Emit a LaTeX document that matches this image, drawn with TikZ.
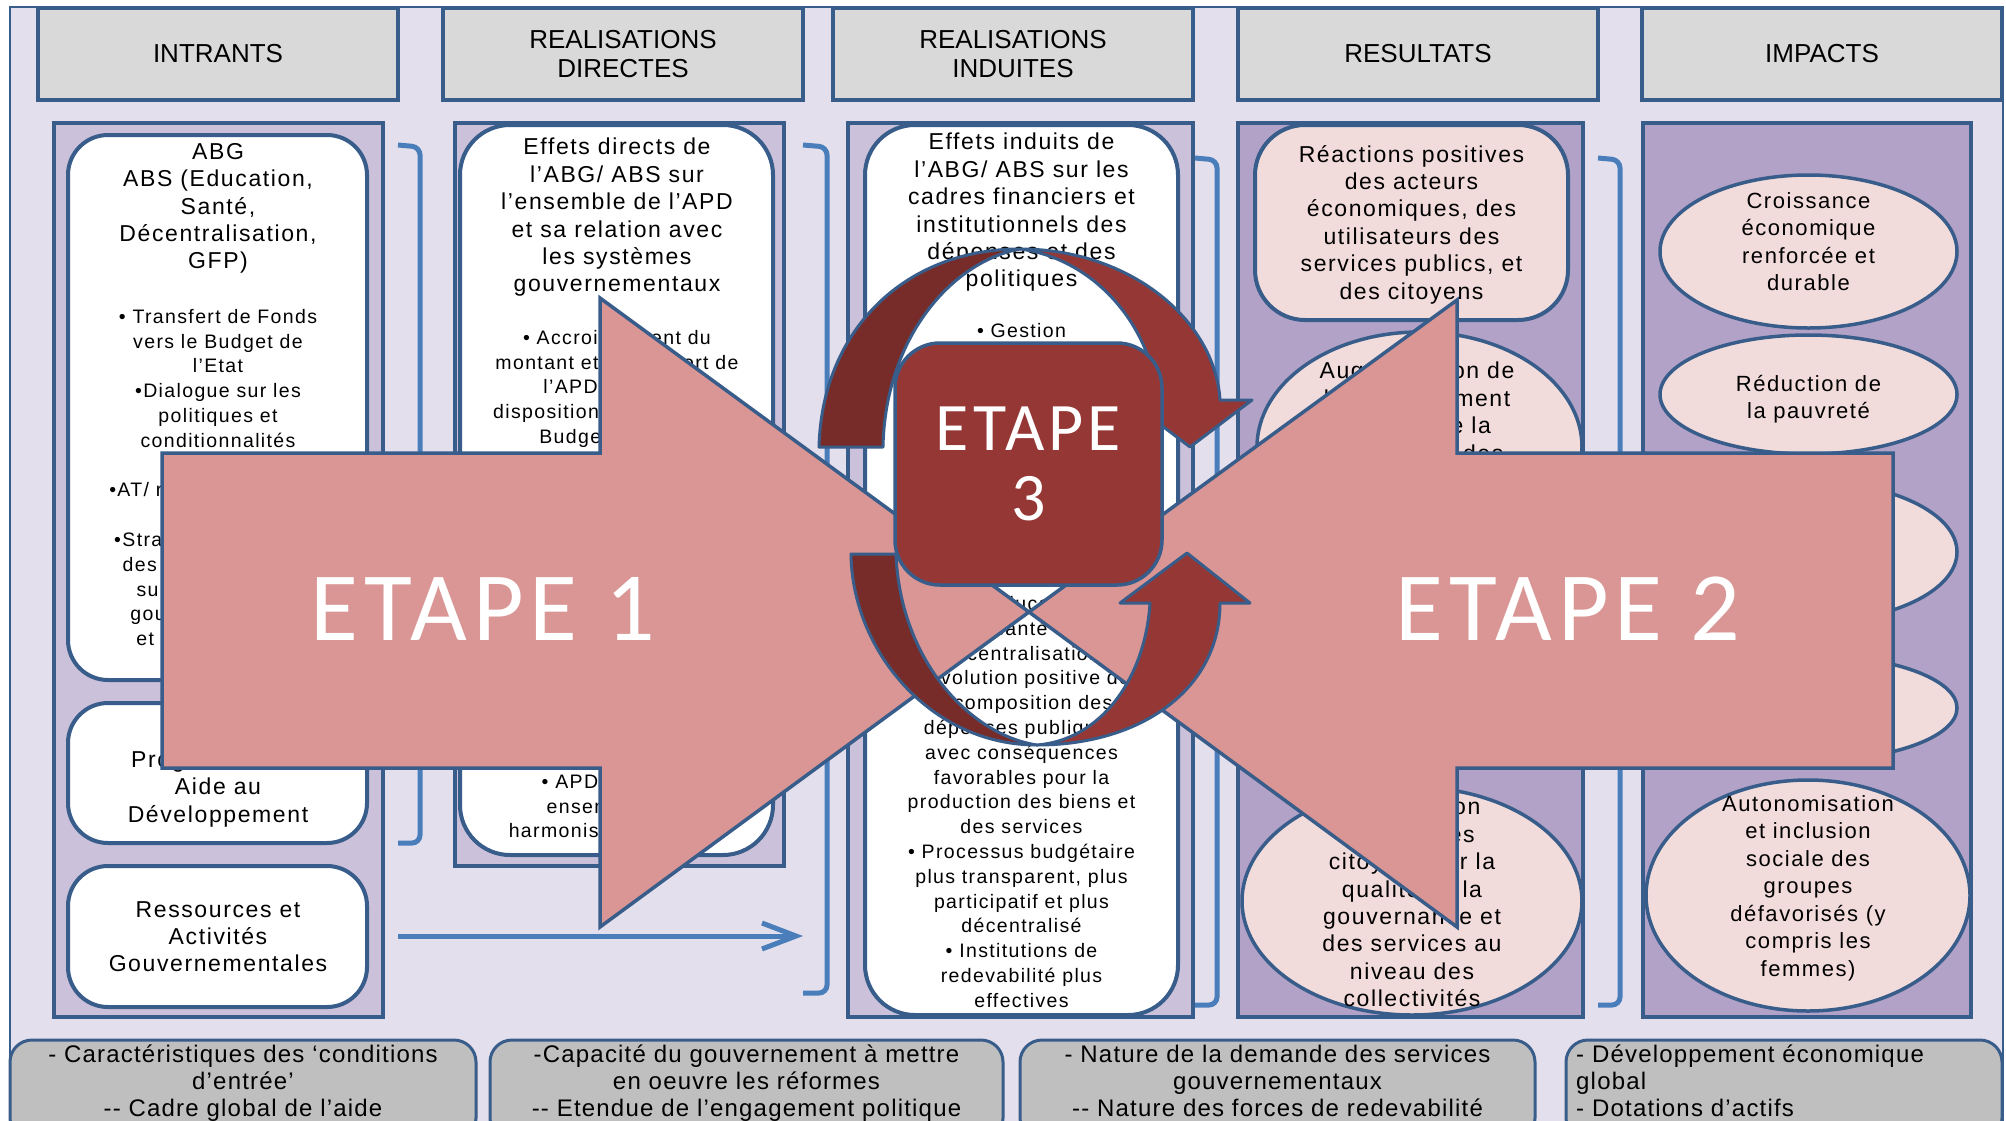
\documentclass[tikz,border=0pt]{standalone}
\usepackage{fontspec}
\setmainfont{Liberation Sans}
\newfontfamily\boxfont[LetterSpace=7]{Liberation Sans}
\newfontfamily\footfont[LetterSpace=5]{Liberation Sans}
\newfontfamily\etapefont[LetterSpace=6]{Carlito}
\usetikzlibrary{shapes.geometric,arrows.meta}

\definecolor{bgviolet}{HTML}{E4DFEC}
\definecolor{frameblue}{HTML}{385D8A}
\definecolor{hdrgray}{HTML}{D9D9D9}
\definecolor{lightpanel}{HTML}{CCC1DA}
\definecolor{darkpanel}{HTML}{B3A2C7}
\definecolor{rosebox}{HTML}{F2DCDB}
\definecolor{arrowpink}{HTML}{D99694}
\definecolor{etapered}{HTML}{953735}
\definecolor{etapedark}{HTML}{772C2A}
\definecolor{brkblue}{HTML}{4A7EBB}
\definecolor{footgray}{HTML}{BFBFBF}

\newcommand\colbig{\boxfont\fontsize{23}{27.4}\selectfont}
\newcommand\colmid{\boxfont\fontsize{22}{27.5}\selectfont}
\newcommand\colsmall{\boxfont\fontsize{19.5}{24.8}\selectfont}

\tikzset{
  hdr/.style={draw=frameblue, line width=3.5pt, fill=hdrgray, minimum width=360pt,
    minimum height=92pt, align=center, font=\fontsize{26}{29}\selectfont},
  panel/.style={draw=frameblue, line width=3.5pt, fill=#1, inner sep=0pt},
  wbox/.style={draw=frameblue, line width=4pt, fill=white, rounded corners=40pt, inner sep=0pt},
  pbox/.style={draw=frameblue, line width=4pt, fill=rosebox, rounded corners=50pt, inner sep=0pt},
  pell/.style={ellipse, draw=frameblue, line width=3.5pt, fill=rosebox, inner sep=0pt},
  txt/.style={align=center, inner sep=0pt, anchor=north},
  brk/.style={draw=brkblue, line width=5pt, rounded corners=8pt},
  etape/.style={fill=arrowpink, draw=frameblue, line width=3.5pt},
  etapetxt/.style={text=white, inner sep=0pt, align=center},
  crc/.style={draw=frameblue, line width=3pt, line join=round},
  step3/.style={draw=frameblue, line width=3.5pt, fill=etapered, rounded corners=45pt},
  foot/.style={draw=frameblue, line width=3pt, fill=footgray, rounded corners=22pt, inner sep=0pt},
  foottxt/.style={inner sep=0pt, font=\footfont\fontsize{24}{27}\selectfont}
}

\begin{document}
\begin{tikzpicture}[x=1pt,y=-1pt]
    \useasboundingbox (0,0) rectangle (2006,1120);
    \fill [white] (0,0) rectangle (2006,1120);
    % Fond
    \draw [fill=bgviolet, draw=frameblue, line width=2.5pt] (10,7) rectangle (2003,1130);

    % En-tetes
    \node [hdr] (hin) at (218,54) {INTRANTS};
    \node [hdr] (hdir) at (623,54) {REALISATIONS\\DIRECTES};
    \node [hdr] (hind) at (1013,54) {REALISATIONS\\INDUITES};
    \node [hdr] (hres) at (1418,54) {RESULTATS};
    \node [hdr] (himp) at (1822,54) {IMPACTS};

    % Colonnes
    \node [panel=lightpanel, minimum width=329pt, minimum height=894pt] (pin) at (218.5,570) {};
    \node [panel=lightpanel, minimum width=329pt, minimum height=743pt] (pdir) at (619.5,494.5) {};
    \node [panel=lightpanel, minimum width=345pt, minimum height=894pt] (pind) at (1020.5,570) {};
    \node [panel=darkpanel, minimum width=345pt, minimum height=894pt] (pres) at (1410.5,570) {};
    \node [panel=darkpanel, minimum width=328pt, minimum height=894pt] (pimp) at (1807,570) {};

    % Intrants
    \node [wbox, minimum width=299pt, minimum height=545pt] (abg) at (217.5,407.5) {};
    \node [wbox, minimum width=299pt, minimum height=140pt] (pad) at (217.5,773) {};
    \node [wbox, minimum width=299pt, minimum height=141pt] (rag) at (217.5,936.5) {};
    \node [txt, font=\colbig] (abgt) at (218,143) {ABG\\ABS (Education,\\Santé,\\Décentralisation,\\GFP)};
    \node [txt, font=\colsmall] (abgl) at (218,309) {• Transfert de Fonds\\vers le Budget de\\l’Etat\\•Dialogue sur les\\politiques et\\conditionnalités\\connexes\\•AT/ renforcement des\\capacités\\•Stratégies/pratiques\\des Agences d’aide\\sur les systèmes\\gouvernementaux\\et harmonisation};
    \node [txt, font=\colbig] (padt) at (218,724) {Autres\\Programmes d’\\Aide au\\Développement};
    \node [txt, font=\colbig] (ragt) at (218,901) {Ressources et\\Activités\\Gouvernementales};

    % Realisations directes
    \node [wbox, rounded corners=50pt, minimum width=313pt, minimum height=730pt] (dir) at (616.5,490) {};
    \node [txt, font=\colbig] (dirt) at (617,138) {Effets directs de\\l’ABG/ ABS sur\\l’ensemble de l’APD\\et sa relation avec\\les systèmes\\gouvernementaux};
    \node [txt, font=\colsmall] (dirl) at (617,330) {• Accroissement du\\montant et de l’apport de\\l’APD mise à la\\disposition et soumise au\\Budget de l’Etat};
    \node [txt, font=\colsmall] (dirb) at (617,774) {• APD dans son\\ensemble plus\\harmonisée et alignée};

    % Realisations induites
    \node [wbox, rounded corners=50pt, minimum width=313pt, minimum height=890pt] (ind) at (1021.5,570) {};
    \node [txt, font=\colbig] (indt) at (1021.5,133) {Effets induits de\\l’ABG/ ABS sur les\\cadres financiers et\\institutionnels des\\dépenses et des\\politiques};
    \node [txt, font=\colsmall] (indg) at (1021.5,323) {• Gestion};
    \node [txt, font=\colsmall] (indl) at (1021.5,596) {de l’éducation,\\la santé et\\décentralisation\\• Évolution positive de\\la composition des\\dépenses publiques\\avec conséquences\\favorables pour la\\production des biens et\\des services\\• Processus budgétaire\\plus transparent, plus\\participatif et plus\\décentralisé\\• Institutions de\\redevabilité plus\\effectives};

    % Resultats
    \node [pbox, minimum width=313pt, minimum height=195pt] (rea) at (1411.5,222.5) {};
    \node [txt, font=\colbig] (reat) at (1411.5,145) {Réactions positives\\des acteurs\\économiques, des\\utilisateurs des\\services publics, et\\des citoyens};
    \node [pell, minimum width=325pt, minimum height=230pt] (inv) at (1419.5,447) {};
    \node [txt, font=\colbig] (invt) at (1417,362) {Augmentation de\\l’investissement\\privé et de la\\croissance des};
    \node [pell, minimum width=340pt, minimum height=228pt] (sat) at (1412,901) {};
    \node [txt, font=\colbig] (satt) at (1412,798) {Satisfaction\\accrue des\\citoyens sur la\\qualité de la\\gouvernance et\\des services au\\niveau des\\collectivités};

    % Impacts
    \node [pell, minimum width=297pt, minimum height=153pt] (cro) at (1808.5,251.5) {};
    \node [pell, minimum width=297pt, minimum height=119pt] (pau) at (1808.5,394.5) {};
    \node [pell, minimum width=297pt, minimum height=141pt] (imp3) at (1808.5,552) {};
    \node [pell, minimum width=297pt, minimum height=106pt] (imp4) at (1808.5,708) {};
    \node [pell, minimum width=324pt, minimum height=231pt] (aut) at (1808,895.5) {};
    \node [txt, font=\colmid] (crot) at (1808.5,192) {Croissance\\économique\\renforcée et\\durable};
    \node [txt, font=\colmid] (paut) at (1808.5,375) {Réduction de\\la pauvreté};
    \node [txt, font=\colmid] (autt) at (1808,795) {Autonomisation\\et inclusion\\sociale des\\groupes\\défavorisés (y\\compris les\\femmes)};

    % Crochets
    \draw [brk] (398,145) -- (420,147) -- (420,843) -- (398,843);
    \draw [brk] (803,145) -- (827,147) -- (827,993) -- (803,993);
    \draw [brk] (1195,158) -- (1217,160) -- (1217,1005) -- (1195,1005);
    \draw [brk] (1598,158) -- (1620,160) -- (1620,1005) -- (1598,1005);
    \coordinate (rfrom) at (398,936);
    \coordinate (rto) at (803,936);
    \draw [brk, -{Straight Barb[length=34pt,width=26pt]}] (rfrom) -- (rto);

    % Etapes 1 et 2
    \draw [etape] (162,453) -- (600,453) -- (600,298) -- (1029,612) -- (600,927) -- (600,768) -- (162,768) -- cycle;
    \draw [etape] (1893,453) -- (1457,453) -- (1457,300) -- (1029,612) -- (1457,927) -- (1457,768) -- (1893,768) -- cycle;
    \node [etapetxt, font=\etapefont\fontsize{98}{98}\selectfont] (et1) at (483,609) {ETAPE 1};
    \node [etapetxt, font=\etapefont\fontsize{98}{98}\selectfont] (et2) at (1568,609) {ETAPE 2};

    % Fleches circulaires
    \draw [crc, fill=etapedark] (819,447) .. controls (822,330) and (905,249) .. (1020,249)
        .. controls (950,262) and (885,340) .. (883,447) -- cycle;
    \draw [crc, fill=etapered] (1020,249) .. controls (1130,249) and (1215,320) .. (1220,400)
        -- (1252,400) -- (1190,447) -- (1128,400) -- (1158,400)
        .. controls (1150,320) and (1090,258) .. (1020,249) -- cycle;
    \draw [crc, fill=etapedark] (851,554) .. controls (852,650) and (930,745) .. (1037,745)
        .. controls (970,735) and (900,660) .. (896,554) -- cycle;
    \draw [crc, fill=etapered] (1037,745) .. controls (1140,745) and (1220,690) .. (1220,603)
        -- (1250,603) -- (1187,553) -- (1120,603) -- (1150,603)
        .. controls (1145,680) and (1100,740) .. (1037,745) -- cycle;

    % Etape 3
    \node [step3, minimum width=267pt, minimum height=242pt, etapetxt,
        font=\etapefont\fontsize{68}{70}\selectfont] (et3) at (1028.5,464) {ETAPE\\3};

    % Facteurs
    \node [foot, minimum width=466pt, minimum height=100pt] (f1) at (243,1090) {};
    \node [foot, minimum width=513pt, minimum height=100pt] (f2) at (746.5,1090) {};
    \node [foot, minimum width=515pt, minimum height=100pt] (f3) at (1277.5,1090) {};
    \node [foot, minimum width=436pt, minimum height=100pt] (f4) at (1784,1090) {};
    \node [foottxt, align=center, anchor=north] (f1t) at (243,1045) {- Caractéristiques des ‘conditions\\d’entrée’\\-- Cadre global de l’aide};
    \node [foottxt, align=center, anchor=north] (f2t) at (746.5,1045) {-Capacité du gouvernement  à mettre\\en oeuvre les réformes\\-- Etendue de l’engagement politique};
    \node [foottxt, align=center, anchor=north] (f3t) at (1277.5,1045) {- Nature de la demande des services\\gouvernementaux\\-- Nature des forces de redevabilité};
    \node [foottxt, align=left, anchor=north west] (f4t) at (1576,1045) {- Développement  économique\\global\\- Dotations d’actifs};
\end{tikzpicture}
\end{document}
